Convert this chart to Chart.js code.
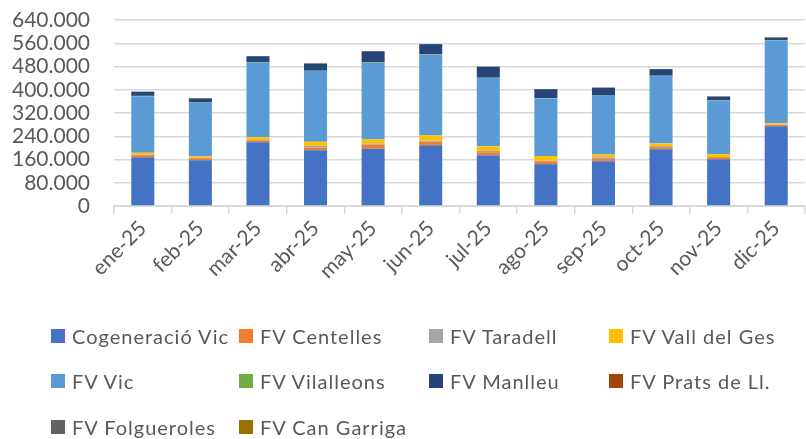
<!DOCTYPE html>
<html>
<head>
<meta charset="utf-8">
<script src="https://cdn.jsdelivr.net/npm/chart.js@4.4.1/dist/chart.umd.min.js"></script>
<style>
  html, body { margin: 0; padding: 0; background: #ffffff; }
  #wrap { position: relative; width: 806px; height: 439px; overflow: hidden; }
  #c { position: absolute; left: 0; top: 0; }
  .lg { position: absolute; display: flex; align-items: center; font-family: Lato, "Liberation Sans", sans-serif; font-size: 20px; letter-spacing: 1px; color: #595959; white-space: nowrap; }
  .lg span.box { display: inline-block; width: 14px; height: 14px; margin-right: 7px; }
</style>
</head>
<body>
<div id="wrap">
  <canvas id="c" width="806" height="439"></canvas>
  <div id="legend"></div>
</div>
<script>
// ---- Data ----
const months = ["ene-25","feb-25","mar-25","abr-25","may-25","jun-25","jul-25","ago-25","sep-25","oct-25","nov-25","dic-25"];

const cogeneracioVic = [168000,157500,219000,192000,197000,209000,175000,144000,154000,195500,161000,274000];
const fvCentelles    = [7000,7000,7000,9000,14000,12500,10000,10000,8000,7000,7000,4600];
const fvTaradell     = [1000,1500,2000,6000,4000,3500,4500,2000,5500,3500,500,1000];
const fvVallDelGes   = [7000,5000,9000,14000,14000,18000,16000,16000,10000,9000,10000,5000];
const fvVic          = [195000,184000,256000,243600,263500,277000,235000,198000,201500,232400,184700,285000];
const fvVilalleons   = [1000,1500,1500,1000,2000,2000,1000,1000,1000,1000,500,1000];
const fvManlleu      = [14500,14000,21000,25000,38000,35000,38000,31000,27500,22600,12500,8500];
const fvPratsDeLl    = [0,0,0,0,0,0,0,0,0,0,1500,0];
const fvFolgueroles  = [0,0,0,0,0,0,0,0,0,0,0,0];
const fvCanGarriga   = [0,0,0,0,0,0,0,0,0,0,0,2000];

const yTickValues = [0,80000,160000,240000,320000,400000,480000,560000,640000];
const yTickLabels = ["0","80.000","160.000","240.000","320.000","400.000","480.000","560.000","640.000"];

const seriesNames  = ["Cogeneració Vic","FV Centelles","FV Taradell","FV Vall del Ges","FV Vic","FV Vilalleons","FV Manlleu","FV Prats de Ll.","FV Folgueroles","FV Can Garriga"];
const seriesData   = [cogeneracioVic,fvCentelles,fvTaradell,fvVallDelGes,fvVic,fvVilalleons,fvManlleu,fvPratsDeLl,fvFolgueroles,fvCanGarriga];
const seriesColors = ["#4472C4","#ED7D31","#A5A5A5","#FFC000","#5B9BD5","#70AD47","#264478","#9E480E","#636363","#997300"];

// ---- Chart ----
const FONT = "Lato, 'Liberation Sans', sans-serif";
const datasets = seriesNames.map((n, i) => ({
  label: n,
  data: seriesData[i],
  backgroundColor: seriesColors[i],
  borderWidth: 0,
  categoryPercentage: 1.0,
  barPercentage: 0.4
}));

new Chart(document.getElementById('c'), {
  type: 'bar',
  data: { labels: months, datasets },
  options: {
    responsive: false,
    devicePixelRatio: 1,
    animation: false,
    layout: { padding: { top: 20, right: 1, bottom: 143, left: 0 } },
    plugins: { legend: { display: false }, tooltip: { enabled: false } },
    scales: {
      x: {
        stacked: true,
        offset: true,
        grid: { display: true, drawOnChartArea: false, drawTicks: true, tickLength: 8, color: '#d9d9d9', lineWidth: 1.5, offset: true },
        border: { display: true, color: '#d9d9d9', width: 2 },
        ticks: { minRotation: 45, maxRotation: 45, autoSkip: false, color: '#595959', font: { family: FONT, size: 21 }, padding: 2 },
        afterFit: s => { s.height = 90; }
      },
      y: {
        stacked: true,
        min: 0,
        max: 640000,
        afterBuildTicks: s => { s.ticks = yTickValues.map(v => ({ value: v })); },
        grid: { color: '#d9d9d9', lineWidth: 1.5, drawTicks: true, tickLength: 22, tickColor: 'rgba(0,0,0,0)' },
        border: { display: false },
        ticks: {
          autoSkip: false,
          color: '#595959',
          font: { family: FONT, size: 21 },
          padding: 2,
          callback: (v) => { const k = yTickValues.indexOf(v); return k >= 0 ? yTickLabels[k] : ''; }
        },
        afterFit: s => { s.width = 114; }
      }
    }
  }
});

// ---- Legend (Excel-style column grid) ----
const legendCols = [51, 239, 429, 609];
const legendRows = [336, 381, 427];
const lg = document.getElementById('legend');
seriesNames.forEach((n, i) => {
  const d = document.createElement('div');
  d.className = 'lg';
  d.style.left = legendCols[i % 4] + 'px';
  d.style.top = (legendRows[Math.floor(i / 4)] - 13) + 'px';
  d.style.height = '26px';
  const b = document.createElement('span');
  b.className = 'box';
  b.style.background = seriesColors[i];
  d.appendChild(b);
  d.appendChild(document.createTextNode(n));
  lg.appendChild(d);
});
</script>
</body>
</html>
